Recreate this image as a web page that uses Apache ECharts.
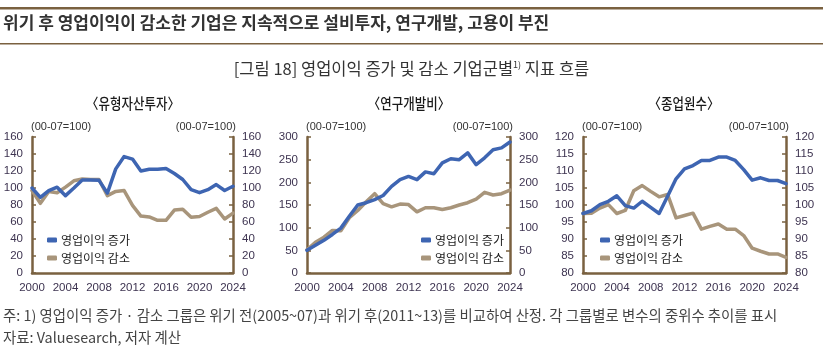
<!DOCTYPE html>
<html>
<head>
<meta charset="utf-8">
<script src="https://cdn.jsdelivr.net/npm/echarts@6/dist/echarts.min.js"></script>
<style>
  html, body { margin: 0; padding: 0; background: #fff; }
  #main { width: 823px; height: 352px; }
</style>
</head>
<body>
<div id="main"></div>
<script>
// 데이터 (00-07=100)
var years = ['2000','2001','2002','2003','2004','2005','2006','2007','2008','2009','2010','2011','2012',
             '2013','2014','2015','2016','2017','2018','2019','2020','2021','2022','2023','2024'];

// 유형자산투자
var capexUp   = [100, 89, 97, 101, 91, 100, 109.5, 109.5, 109, 94, 122.5, 137, 134, 120, 122, 122, 123, 117, 110, 98, 94.5, 98, 104, 97, 102];
var capexDown = [97, 82, 96, 94.5, 101, 108.5, 110.5, 110, 110, 91, 96, 97, 79.5, 67, 66, 62, 62, 74, 75, 65.5, 66.5, 71.5, 76, 63.5, 70.5];

// 연구개발비
var rndUp   = [50, 61, 72, 85, 99, 125, 150, 155, 162, 171, 191, 206, 213, 206, 223, 219, 243, 252, 250, 265, 239, 254, 272, 276, 289];
var rndDown = [51, 68, 79, 94, 93, 122, 138, 157, 175, 153, 146, 152, 151, 135, 144, 144, 140, 144, 150, 155, 163, 178, 172, 175, 183];

// 종업원수
var empUp   = [97.5, 98.3, 100.1, 101.1, 102.7, 99.8, 99.1, 101.1, 99.3, 97.5, 102.6, 107.7, 110.6, 111.6, 113.1, 113.1, 114.1, 114.1, 113.1, 110.4, 107.3, 108, 107.2, 107.2, 106.3];
var empDown = [97.5, 97.6, 99.1, 100.1, 97.5, 98.4, 104.2, 105.7, 104, 102.4, 103.1, 96.2, 96.9, 97.6, 92.9, 93.7, 94.4, 92.9, 92.9, 91, 87.3, 86.4, 85.6, 85.6, 84.6];

var seriesNames = ['영업이익 증가', '영업이익 감소'];
var panelTitles = ['〈유형자산투자〉', '〈연구개발비〉', '〈종업원수〉'];
var unitLabel = '(00-07=100)';

var font = '"Noto Sans CJK KR", "Liberation Sans", sans-serif';
var numFont = '"Liberation Sans", Arial, sans-serif';
var axisColor = '#7a6140';
var labelColor = '#3d3350';
var blue = '#3e65b2';
var tan = '#a8957b';

var panels = [
    { left: 32, width: 201, min: 0,  max: 160, step: 20, up: capexUp, down: capexDown, legendLeft: 42,  cx: 133 },
    { left: 307, width: 203, min: 0,  max: 300, step: 50, up: rndUp,   down: rndDown,   legendLeft: 416, cx: 409 },
    { left: 583, width: 203, min: 80, max: 120, step: 5,  up: empUp,   down: empDown,   legendLeft: 595, cx: 684 }
];

var grid = [], xAxis = [], yAxis = [], series = [], legend = [], graphic = [];

var axisLineStyle = { show: true, lineStyle: { color: axisColor, width: 2.5 } };

panels.forEach(function (p, i) {
    grid.push({ left: p.left, width: p.width, top: 137, height: 136 });

    xAxis.push({
        type: 'category', gridIndex: i, data: years, boundaryGap: false,
        axisLine: axisLineStyle, axisTick: { show: false },
        axisLabel: { interval: 3, color: labelColor, fontFamily: numFont, fontSize: 11.5, margin: 9 },
        splitLine: { show: false }
    });

    ['left', 'right'].forEach(function (pos) {
        yAxis.push({
            type: 'value', gridIndex: i, position: pos,
            min: p.min, max: p.max, interval: p.step,
            axisLine: axisLineStyle,
            axisTick: { show: true, inside: true, length: 4, lineStyle: { color: axisColor, width: 1.5 } },
            axisLabel: { color: labelColor, fontFamily: numFont, fontSize: 11.5, margin: 9 },
            splitLine: { show: false }
        });
    });

    [p.up, p.down].forEach(function (d, k) {
        series.push({
            name: seriesNames[k], type: 'line', xAxisIndex: i, yAxisIndex: i * 2,
            data: d, symbol: 'none', smooth: false,
            lineStyle: { width: 3.5, color: k === 0 ? blue : tan, cap: 'round', join: 'round' },
            itemStyle: { color: k === 0 ? blue : tan },
            z: k === 0 ? 3 : 2
        });
    });

    legend.push({
        data: seriesNames, orient: 'vertical', left: p.legendLeft, top: 229,
        icon: 'roundRect', itemWidth: 10, itemHeight: 5, itemGap: 6,
        selectedMode: false,
        textStyle: { fontFamily: font, fontSize: 12, color: '#222', lineHeight: 12, padding: [0, 0, 0, -1] }
    });

    graphic.push({
        type: 'text', x: p.cx, y: 103, scaleX: 0.86,
        style: { text: panelTitles[i], x: 0, y: 0, font: '500 14.5px ' + font, fill: '#1a1a1a',
                 textAlign: 'center', textVerticalAlign: 'middle' }
    });
    graphic.push({
        type: 'text', x: p.left - 1, y: 127,
        style: { text: unitLabel, x: 0, y: 0, font: '11px ' + numFont, fill: '#333',
                 textAlign: 'left', textVerticalAlign: 'middle' }
    });
    graphic.push({
        type: 'text', x: p.left + p.width + 3, y: 127,
        style: { text: unitLabel, x: 0, y: 0, font: '11px ' + numFont, fill: '#333',
                 textAlign: 'right', textVerticalAlign: 'middle' }
    });
});

// 제목, 구분선, 주석
graphic.push(
    { type: 'rect', shape: { x: 0, y: 7, width: 823, height: 2.5 }, style: { fill: axisColor } },
    { type: 'rect', shape: { x: 0, y: 43, width: 823, height: 1.5 }, style: { fill: axisColor } },
    { type: 'text', left: 3, top: 14,
      style: { text: '위기 후 영업이익이 감소한 기업은 지속적으로 설비투자, 연구개발, 고용이 부진',
               font: 'bold 17px ' + font, fill: '#333' } },
    { type: 'text', left: 'center', top: 60,
      style: { text: '[그림 18] 영업이익 증가 및 감소 기업군별{sup|1)} 지표 흐름',
               font: '16.5px ' + font, fill: '#333',
               rich: { sup: { fontSize: 9, fontFamily: font, verticalAlign: 'top', fill: '#333', padding: [0, 0, 8, 0] } } } },
    { type: 'text', left: 3, top: 308,
      style: { text: '주: 1) 영업이익 증가 · 감소 그룹은 위기 전(2005~07)과 위기 후(2011~13)를 비교하여 산정. 각 그룹별로 변수의 중위수 추이를 표시',
               font: '14.4px ' + font, fill: '#444' } },
    { type: 'text', left: 3, top: 330,
      style: { text: '자료: Valuesearch, 저자 계산', font: '14.4px ' + font, fill: '#444' } }
);

var myChart = echarts.init(document.getElementById('main'));
myChart.setOption({
    animation: false,
    grid: grid,
    xAxis: xAxis,
    yAxis: yAxis,
    legend: legend,
    series: series,
    graphic: graphic
});
</script>
</body>
</html>
